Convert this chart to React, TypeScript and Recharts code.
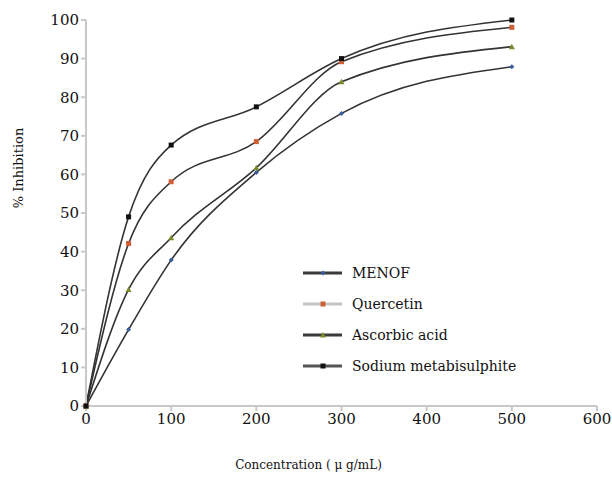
import React from 'react';
import { LineChart, Line, XAxis, YAxis } from 'recharts';

const concentrations = [0, 50, 100, 200, 300, 500];
const menof = [0, 19.8, 37.8, 60.5, 75.8, 87.9];
const quercetin = [0, 42.1, 58.1, 68.5, 89.2, 98.1];
const ascorbic = [0, 30.2, 43.6, 61.7, 84.0, 93.1];
const sodium = [0, 49.0, 67.6, 77.5, 90.0, 100];

const xTicks = [0, 100, 200, 300, 400, 500, 600];
const yTicks = [0, 10, 20, 30, 40, 50, 60, 70, 80, 90, 100];

const data = concentrations.map((c, i) => ({
  c,
  menof: menof[i],
  quercetin: quercetin[i],
  ascorbic: ascorbic[i],
  sodium: sodium[i],
}));

const series = [
  { key: 'menof', name: 'MENOF', marker: 'diamond', color: '#3b5c9c', legendLine: '#3a3a3a' },
  { key: 'quercetin', name: 'Quercetin', marker: 'square', color: '#cf5f36', legendLine: '#c4c4c4' },
  { key: 'ascorbic', name: 'Ascorbic acid', marker: 'triangle', color: '#7b8a2e', legendLine: '#3a3a3a' },
  { key: 'sodium', name: 'Sodium metabisulphite', marker: 'square', color: '#111111', legendLine: '#555555' },
];

const font = '"DejaVu Serif", serif';

function Marker({ cx, cy, shape, color }: any) {
  if (cx == null || cy == null) return null;
  if (shape === 'diamond') {
    return <path d={`M${cx},${cy - 2.5}L${cx + 2.5},${cy}L${cx},${cy + 2.5}L${cx - 2.5},${cy}Z`} fill={color} />;
  }
  if (shape === 'triangle') {
    return <path d={`M${cx},${cy - 3}L${cx + 3},${cy + 2.5}L${cx - 3},${cy + 2.5}Z`} fill={color} />;
  }
  return <rect x={cx - 2.5} y={cy - 2.5} width={5} height={5} fill={color} />;
}

function LegendBox() {
  return (
    <div style={{ position: 'absolute', left: 302, top: 257, fontFamily: font, fontSize: 14, color: '#111' }}>
      {series.map((s) => (
        <div key={s.key} style={{ display: 'flex', alignItems: 'center', height: 31 }}>
          <svg width={41} height={10} style={{ marginRight: 9 }}>
            <line x1={1} y1={5} x2={40} y2={5} stroke={s.legendLine} strokeWidth={3} />
            <Marker cx={21} cy={5} shape={s.marker} color={s.color} />
          </svg>
          <span>{s.name}</span>
        </div>
      ))}
    </div>
  );
}

export default function App() {
  return (
    <div style={{ position: 'absolute', left: 0, top: 0, width: 612, height: 485, background: '#fff', fontFamily: font }}>
      <LineChart width={612} height={485} data={data} margin={{ top: 20, right: 15, bottom: 49, left: 0 }}>
        <XAxis
          dataKey="c"
          type="number"
          domain={[0, 600]}
          ticks={xTicks}
          height={30}
          stroke="#c8c8c8"
          strokeWidth={2}
          tickSize={5}
          tick={{ fill: '#111', fontSize: 15, fontFamily: font }}
          label={{
            value: 'Concentration ( μ g/mL)',
            position: 'bottom',
            offset: 24,
            dx: -33,
            style: { fill: '#111', fontSize: 12, fontFamily: font },
          }}
        />
        <YAxis
          type="number"
          domain={[0, 100]}
          ticks={yTicks}
          width={86}
          stroke="#c8c8c8"
          strokeWidth={2}
          tickSize={5}
          interval={0}
          tick={{ fill: '#111', fontSize: 15, fontFamily: font }}
          label={{
            value: '% Inhibition',
            angle: -90,
            position: 'insideLeft',
            offset: 18,
            dy: -45,
            style: { fill: '#111', fontSize: 13, fontFamily: font, textAnchor: 'middle' },
          }}
        />
        {series.map((s) => (
          <Line
            key={s.key}
            dataKey={s.key}
            name={s.name}
            type="monotone"
            stroke="#333"
            strokeWidth={1.6}
            isAnimationActive={false}
            dot={(p: any) => <Marker key={`${s.key}-${p.index}`} cx={p.cx} cy={p.cy} shape={s.marker} color={s.color} />}
            activeDot={false}
          />
        ))}
      </LineChart>
      <LegendBox />
    </div>
  );
}
